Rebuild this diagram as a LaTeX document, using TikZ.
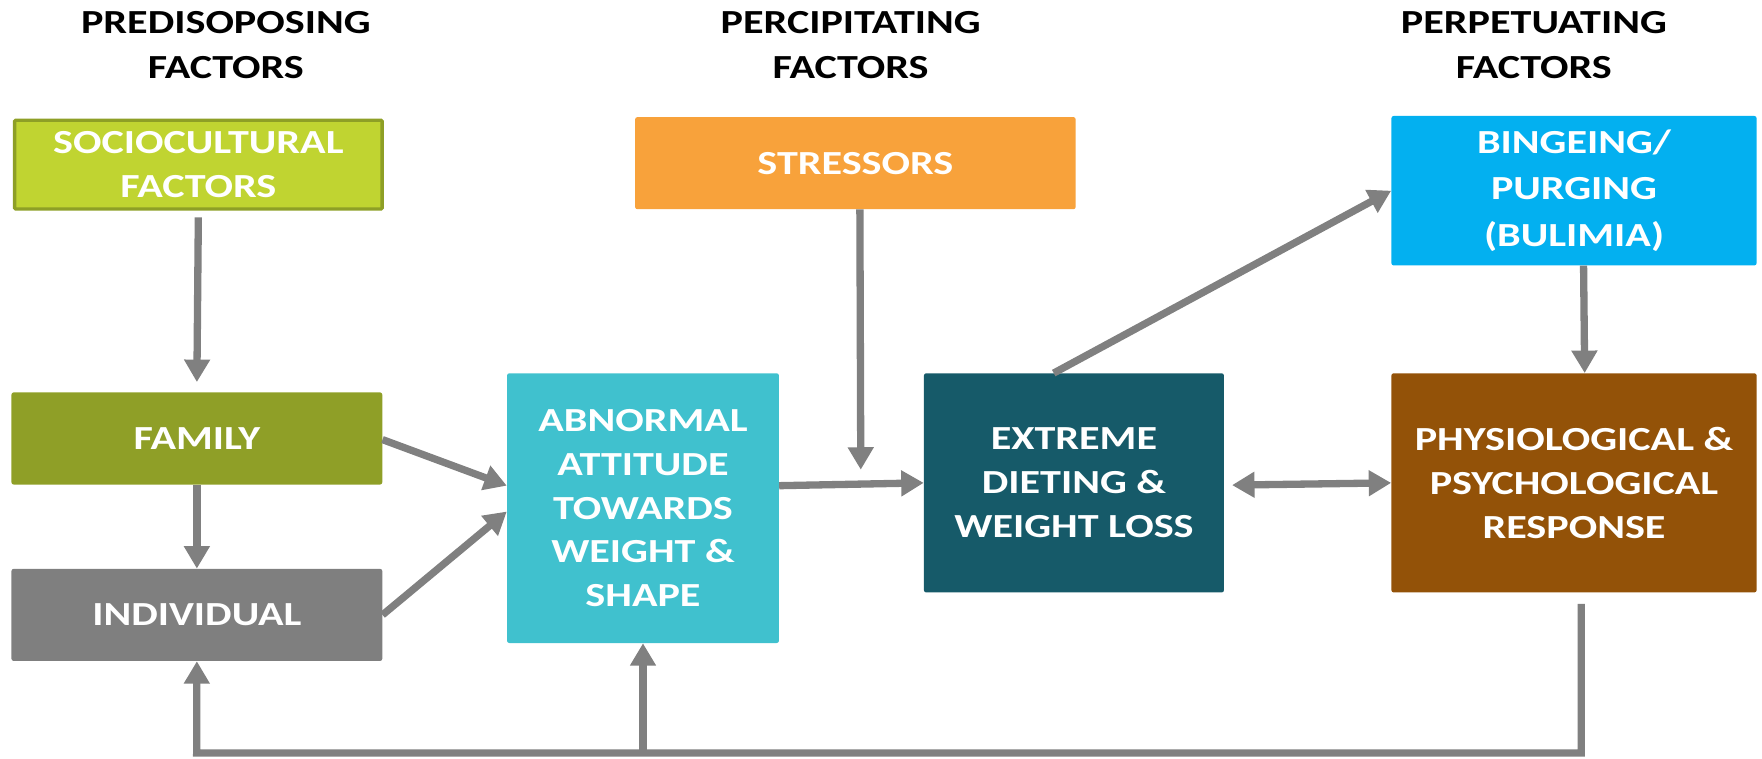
\documentclass[tikz,border=0pt]{standalone}
\usepackage{fontspec}
\setmainfont{Carlito}[FakeStretch=1.25]
\usetikzlibrary{arrows.meta}
\definecolor{cSocio}{HTML}{C0D431}
\definecolor{cSocioB}{HTML}{8E9F26}
\definecolor{cFam}{HTML}{8F9F27}
\definecolor{cInd}{HTML}{7F7F7F}
\definecolor{cAbn}{HTML}{40C1CE}
\definecolor{cStr}{HTML}{F8A23B}
\definecolor{cExt}{HTML}{165A69}
\definecolor{cBin}{HTML}{03B0F0}
\definecolor{cPhy}{HTML}{935208}
\definecolor{cArr}{HTML}{808080}
\tikzset{
  box/.style={anchor=north west, inner sep=0pt, rounded corners=2pt, text=white,
    align=center, font=\fontsize{30}{39}\selectfont\bfseries},
  head/.style={inner sep=0pt, align=center, text=black, font=\fontsize{30}{40}\selectfont\bfseries},
  conn/.style={draw=cArr, line width=6.5pt},
  arr/.style={conn, -{Triangle[width=22pt,length=20pt]}},
  darr/.style={conn, {Triangle[width=22pt,length=20pt]}-{Triangle[width=22pt,length=20pt]}},
}
\begin{document}
\begin{tikzpicture}[x=1pt,y=-1pt]
\useasboundingbox (0,0) rectangle (1568,675);
% headings
\node[head] (h1) at (201,40) {PREDISOPOSING\\FACTORS};
\node[head] (h2) at (757,40) {PERCIPITATING\\FACTORS};
\node[head] (h3) at (1365,40) {PERPETUATING\\FACTORS};
% boxes
\node[box, fill=cSocio, draw=cSocioB, line width=3pt, rounded corners=1pt, minimum width=327pt, minimum height=79pt] (socio) at (11.5,105.5) {SOCIOCULTURAL\\FACTORS};
\node[box, fill=cFam, minimum width=330pt, minimum height=82pt] (family) at (10,349) {FAMILY};
\node[box, fill=cInd, minimum width=330pt, minimum height=82pt] (indiv) at (10,506) {INDIVIDUAL};
\node[box, fill=cAbn, minimum width=242pt, minimum height=240pt] (abn) at (451,332) {ABNORMAL\\ATTITUDE\\TOWARDS\\WEIGHT \&\\SHAPE};
\node[box, fill=cStr, minimum width=392pt, minimum height=82pt] (stress) at (565,104) {STRESSORS};
\node[box, fill=cExt, minimum width=267pt, minimum height=195pt] (ext) at (822,332) {EXTREME\\DIETING \&\\WEIGHT LOSS};
\node[box, fill=cBin, minimum width=325pt, minimum height=133pt, font=\fontsize{30}{41}\selectfont\bfseries] (binge) at (1238,103) {BINGEING/\\PURGING\\(BULIMIA)};
\node[box, fill=cPhy, minimum width=325pt, minimum height=195pt] (phys) at (1238,332) {PHYSIOLOGICAL \&\\PSYCHOLOGICAL\\RESPONSE};
% connectors
\coordinate (stressEnd) at (766,418);
\coordinate (fbl) at (175,670);
\draw[arr] ([yshift=-6pt]socio.south) -- ([yshift=9pt]family.north);
\draw[arr] (family.south) -- (indiv.north);
\draw[arr] ([yshift=-1pt]family.east) -- ([yshift=20pt]abn.west);
\draw[arr] (indiv.east) -- ([yshift=-3pt]abn.west);
\draw[arr] ([yshift=20pt]abn.east) -- (ext.west);
\draw[arr] ([xshift=4pt]stress.south) -- (stressEnd);
\draw[arr] ([xshift=-18pt]ext.north) -- (binge.west);
\draw[arr] ([xshift=8.5pt]binge.south) -- ([xshift=9.5pt]phys.north);
\draw[darr] ([xshift=7pt,yshift=-2pt]ext.east) -- (phys.west);
\draw[arr] ([xshift=6.5pt,yshift=-10pt]phys.south) |- (fbl) -- (indiv.south);
\draw[arr] (abn.south |- fbl) -- (abn.south);
\end{tikzpicture}
\end{document}
